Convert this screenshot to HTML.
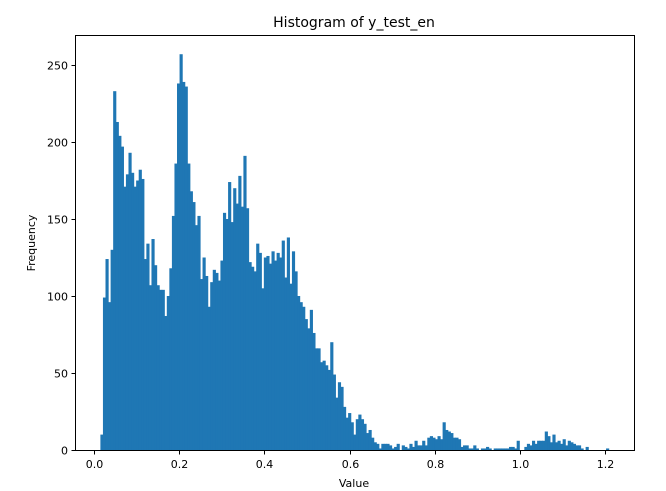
<!DOCTYPE html>
<html><head><meta charset="utf-8"><style>
html,body{margin:0;padding:0;background:#fff;}
svg{display:block;font-family:"DejaVu Sans","Liberation Sans",sans-serif;}
</style></head><body>
<svg id="chart" width="666" height="491" viewBox="0 0 666 491">
<rect x="0" y="0" width="666" height="491" fill="#fff"/>
<text x="354" y="27" font-size="14" text-anchor="middle" fill="#000">Histogram of y_test_en</text>
<g id="bars"></g>
<g id="xticks"></g>
<g id="yticks"></g>
<rect x="75.5" y="35.5" width="559" height="415" fill="none" stroke="#000" stroke-width="1"/>
<text x="354" y="487" font-size="11" text-anchor="middle">Value</text>
<text x="0" y="0" font-size="11" text-anchor="middle" transform="translate(35,243) rotate(-90)">Frequency</text>
</svg>
<script>
const counts = [10,99,124,96,130,233,213,204,197,
171,179,193,180,171,175,182,176,124,134,107,137,120,107,104,104,87,100,118,152,186,238,257,239,236,
186,168,161,
146,152,111,125,113,93,109,117,115,110,123,154,150,174,148,170,160,178,158,191,157,122,119,116,134,128,105,125,126,121,129,123,128,125,136,112,138,108,129,116,100,
96,93,85,79,91,76,66,66,57,58,55,52,70,49,34,44,41,28,21,24,18,10,20,23,20,17,11,13,8,5,4,1,4,4,4,
3,1,2,4,0,3,2,1,4,2,6,3,3,6,3,8,9,8,7,9,7,18,13,12,11,8,8,7,2,3,3,1,1,3,1,0,1,1,2,1,0,1,
1,1,1,1,1,2,2,1,6,0,0,2,4,3,6,4,6,6,6,12,9,5,10,5,6,4,7,3,6,5,4,3,3,1,0,2,
0,0,0,0,0,0,0,1];
const binMin = 0.015;
const binMax = 1.208;
const xTicks = [0.0,0.2,0.4,0.6,0.8,1.0,1.2];
const xTickLabels = ["0.0","0.2","0.4","0.6","0.8","1.0","1.2"];
const yTicks = [0,50,100,150,200,250];
const yTickLabels = ["0","50","100","150","200","250"];

const NS="http://www.w3.org/2000/svg";
function xs(v){return 94+v*426;}
function ys(v){return 450-v*1.54;}
const bw=(binMax-binMin)/counts.length;
const bars=document.getElementById('bars');
counts.forEach((c,i)=>{
  if(c<=0) return;
  const x0=xs(binMin+i*bw), x1=xs(binMin+(i+1)*bw);
  const r=document.createElementNS(NS,'rect');
  r.setAttribute('x',x0);r.setAttribute('width',x1-x0+0.6);
  r.setAttribute('y',ys(c));r.setAttribute('height',ys(0)-ys(c));
  r.setAttribute('fill','#1f77b4');
  
  
  bars.appendChild(r);
});
const xg=document.getElementById('xticks');
xTicks.forEach((t,i)=>{
  const x=Math.round(xs(t))+0.5;
  const l=document.createElementNS(NS,'line');
  l.setAttribute('x1',x);l.setAttribute('x2',x);l.setAttribute('y1',450.5);l.setAttribute('y2',454.5);
  l.setAttribute('stroke','#000');
  
  
  xg.appendChild(l);
  const tx=document.createElementNS(NS,'text');
  tx.setAttribute('x',x);tx.setAttribute('y',468);tx.setAttribute('font-size','11');tx.setAttribute('text-anchor','middle');
  tx.textContent=xTickLabels[i];
  
  
  xg.appendChild(tx);
});
const yg=document.getElementById('yticks');
yTicks.forEach((t,i)=>{
  const y=Math.round(ys(t))+0.5;
  const l=document.createElementNS(NS,'line');
  l.setAttribute('x1',71.5);l.setAttribute('x2',75.5);l.setAttribute('y1',y);l.setAttribute('y2',y);
  l.setAttribute('stroke','#000');
  
  
  yg.appendChild(l);
  const tx=document.createElementNS(NS,'text');
  tx.setAttribute('x',68);tx.setAttribute('y',y+4);tx.setAttribute('font-size','11');tx.setAttribute('text-anchor','end');
  tx.textContent=yTickLabels[i];
  
  
  yg.appendChild(tx);
});
</script>
</body></html>
